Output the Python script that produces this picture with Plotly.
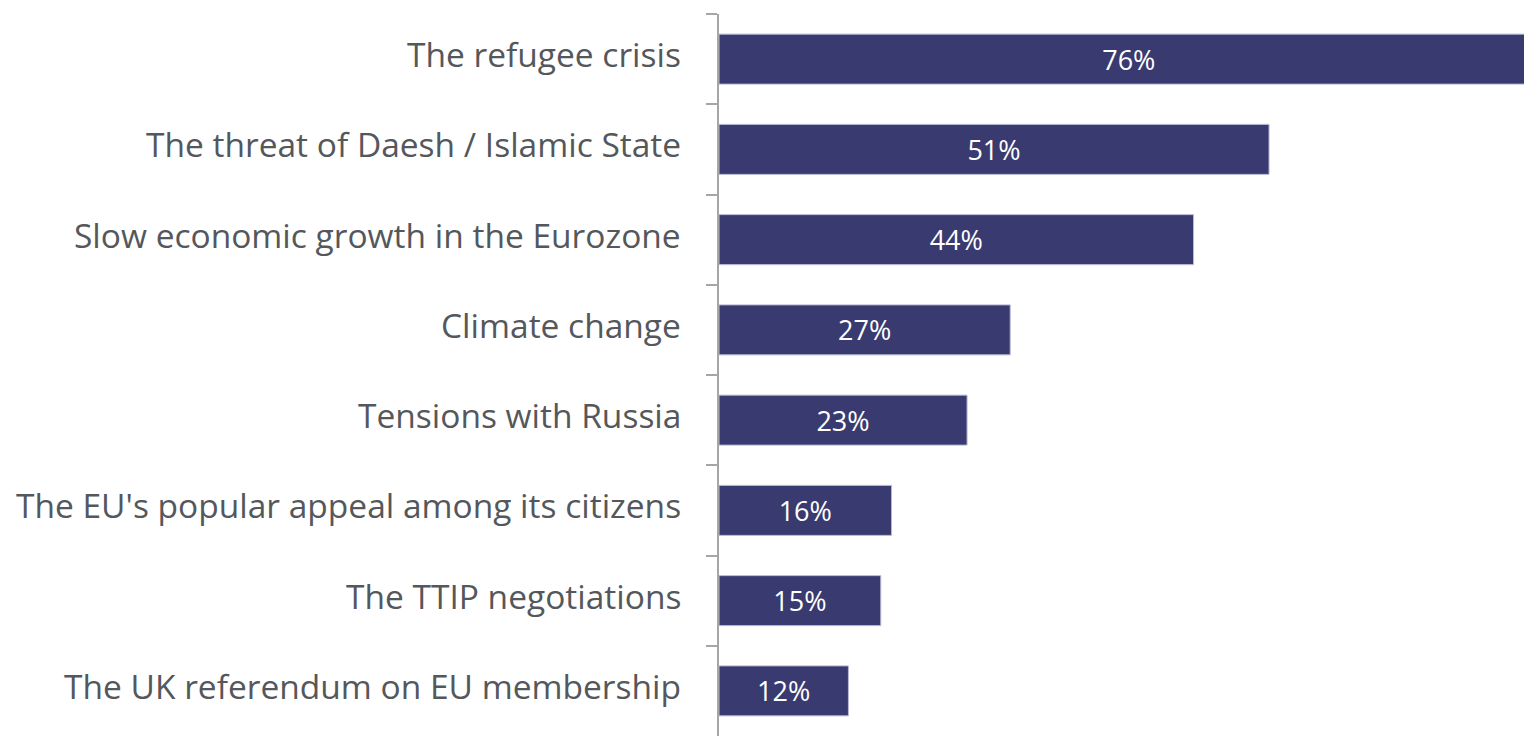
import plotly.graph_objects as go

# Issues, from top to bottom
categories = [
    "The refugee crisis",
    "The threat of Daesh / Islamic State",
    "Slow economic growth in the Eurozone",
    "Climate change",
    "Tensions with Russia",
    "The EU's popular appeal among its citizens",
    "The TTIP negotiations",
    "The UK referendum on EU membership",
]
values = [76, 51, 44, 27, 23, 16, 15, 12]
value_labels = [f"{v}%" for v in values]

fig = go.Figure(
    go.Bar(
        x=values,
        y=categories,
        orientation="h",
        text=value_labels,
        textposition="inside",
        insidetextanchor="middle",
        textangle=0,
        textfont=dict(family="Open Sans", size=27, color="white", weight=500),
        marker=dict(color="#393a70", line=dict(color="#b8b9d6", width=1)),
        cliponaxis=True,
        hoverinfo="skip",
    )
)

# Category labels, set slightly above each bar's centre line
for cat in categories:
    fig.add_annotation(
        text=cat,
        xref="paper",
        x=0,
        y=cat,
        yref="y",
        xanchor="right",
        yanchor="middle",
        xshift=-36,
        yshift=5,
        showarrow=False,
        font=dict(family="Open Sans", size=33.5, color="#54575b"),
    )

fig.update_layout(
    width=1524,
    height=736,
    margin=dict(l=719, r=0, t=14, b=0),
    paper_bgcolor="white",
    plot_bgcolor="white",
    bargap=0.446,
    showlegend=False,
    uniformtext=dict(mode=False),
)
fig.update_xaxes(
    range=[0, 74.64],
    visible=False,
    showgrid=False,
    zeroline=False,
)
fig.update_yaxes(
    autorange="reversed",
    showline=True,
    linecolor="#a6a6a6",
    linewidth=1.5,
    ticks="outside",
    tickson="boundaries",
    ticklen=11,
    tickcolor="#a6a6a6",
    tickwidth=1.5,
    showticklabels=False,
    showgrid=False,
    zeroline=False,
)

fig.write_html("out.html")
